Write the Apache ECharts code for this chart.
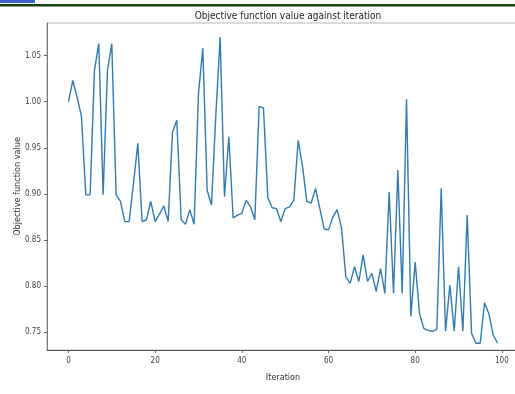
<!DOCTYPE html>
<html>
<head>
<meta charset="utf-8">
<script src="https://cdn.jsdelivr.net/npm/echarts@6/dist/echarts.min.js"></script>
<style>
  html, body { margin: 0; padding: 0; background: #fff; }
  #chart { width: 515px; height: 394px; }
</style>
</head>
<body>
<div id="chart"></div>
<script>
// objective value per iteration
const objValues = [
  1.000, 1.023, 1.005, 0.984, 0.899, 0.899, 1.034, 1.063, 0.899, 1.034,
  1.063, 0.899, 0.892, 0.870, 0.870, 0.911, 0.955, 0.870, 0.872, 0.892,
  0.870, 0.878, 0.887, 0.870, 0.967, 0.980, 0.872, 0.867, 0.883, 0.867,
  1.009, 1.058, 0.904, 0.888, 0.985, 1.070, 0.897, 0.962, 0.874, 0.877,
  0.879, 0.893, 0.886, 0.872, 0.995, 0.993, 0.896, 0.885, 0.884, 0.870,
  0.884, 0.886, 0.893, 0.958, 0.930, 0.892, 0.890, 0.906, 0.884, 0.862,
  0.861, 0.875, 0.883, 0.863, 0.810, 0.803, 0.821, 0.805, 0.834, 0.805,
  0.814, 0.794, 0.819, 0.792, 0.902, 0.792, 0.926, 0.792, 1.003, 0.767,
  0.826, 0.770, 0.754, 0.752, 0.751, 0.753, 0.906, 0.751, 0.801, 0.751,
  0.821, 0.751, 0.877, 0.749, 0.738, 0.738, 0.782, 0.770, 0.747, 0.738
];
const xTicks = [0, 20, 40, 60, 80, 100];
const yTicks = [0.75, 0.80, 0.85, 0.90, 0.95, 1.00, 1.05];

const font = '"DejaVu Sans Condensed", "Liberation Sans Narrow", "DejaVu Sans", sans-serif';
const chart = echarts.init(document.getElementById("chart"));

const options = {
  animation: false,
  backgroundColor: "#fff",
  title: {
    text: "Objective function value against iteration",
    left: 283,
    textAlign: "center",
    top: 6,
    textStyle: { fontSize: 10, fontWeight: "normal", color: "#222", fontFamily: font },
  },
  graphic: [
    { type: "rect", shape: { x: 0, y: 0, width: 35, height: 3 }, style: { fill: "#3b5fd0" } },
    { type: "rect", shape: { x: 0, y: 4, width: 515, height: 2.5 }, style: { fill: "#173f17" } },
  ],
  grid: {
    left: 47,
    top: 23,
    right: -4,
    bottom: 44,
    show: true,
    borderColor: "#b5b5b5",
    borderWidth: 1,
    containLabel: false,
    outerBoundsMode: "none",
  },
  xAxis: {
    type: "value",
    min: -4.95,
    max: 103.95,
    name: "Iteration",
    nameLocation: "middle",
    nameGap: 23,
    nameMoveOverlap: false,
    nameTextStyle: { fontSize: 9, color: "#333", fontFamily: font },
    axisLine: { onZero: false, lineStyle: { color: "#555" } },
    axisTick: { customValues: xTicks, length: 3, lineStyle: { color: "#666" } },
    axisLabel: { customValues: xTicks, fontSize: 8, color: "#444", margin: 7, fontFamily: font },
    splitLine: { show: false },
  },
  yAxis: {
    type: "value",
    min: 0.7307,
    max: 1.0854,
    name: "Objective function value",
    nameLocation: "middle",
    nameGap: 25,
    nameMoveOverlap: false,
    nameTextStyle: { fontSize: 9, color: "#333", fontFamily: font },
    axisLine: { show: true, onZero: false, lineStyle: { color: "#777" } },
    axisTick: { show: true, customValues: yTicks, length: 3, lineStyle: { color: "#666" } },
    axisLabel: {
      customValues: yTicks,
      fontSize: 8,
      color: "#444",
      margin: 6,
      fontFamily: font,
      formatter: (v) => v.toFixed(2),
    },
    splitLine: { show: false },
  },
  series: [
    {
      name: "Objective",
      type: "line",
      data: objValues.map((v, i) => [i, v]),
      showSymbol: false,
      lineStyle: { color: "#2f7bb3", width: 1.4 },
      itemStyle: { color: "#2f7bb3" },
    },
  ],
};

chart.setOption(options);
</script>
</body>
</html>
